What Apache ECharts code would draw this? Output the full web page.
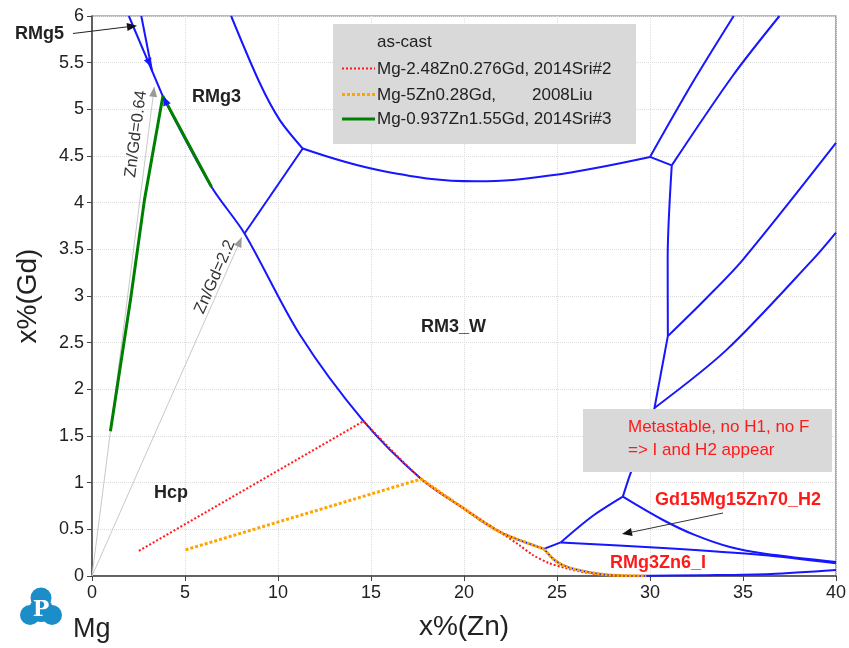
<!DOCTYPE html>
<html><head><meta charset="utf-8">
<script src="https://cdn.jsdelivr.net/npm/echarts@6/dist/echarts.min.js"></script>
<style>html,body{margin:0;padding:0;background:#fff}#c{width:849px;height:648px}</style>
</head><body><div id="c"></div>
<script>
// ---------- data (x%(Zn), x%(Gd)) ----------
const xTickValues = [0,5,10,15,20,25,30,35,40];
const yTickValues = [0,0.5,1,1.5,2,2.5,3,3.5,4,4.5,5,5.5,6];

// blue phase boundaries
const rmg5BoundaryA = [[1.98,6.0],[3.81,5.14]];
const rmg5BoundaryB = [[2.65,6.0],[3.23,5.41]];
const hcpBoundaryUpper = [[3.81,5.14],[6.42,4.17],[8.2,3.67],[11.16,2.59],[14.6,1.66],[17.7,1.04],[19.94,0.73],[21.9,0.475],[24.3,0.29]];
const hcpBoundaryLower = [[24.3,0.29],[24.87,0.17],[25.5,0.10],[26.57,0.046],[27.8,0.011],[29.8,0.0]];
const rmg3wEdge = [[8.2,3.67],[11.33,4.58]];
const rmg3TopEdge = [[11.33,4.58],[10.08,4.89],[9.0,5.29],[7.48,6.0]];
const rm3wTopEdge = [[11.33,4.58],[15.63,4.34],[20.65,4.23],[24.6,4.29],[30.0,4.49]];
const upperRight1 = [[30.0,4.49],[32.3,5.29],[34.5,6.0]];
const junctionLink = [[30.0,4.49],[31.17,4.40]];
const upperRight2 = [[31.17,4.40],[34.45,5.36],[36.96,6.0]];
const verticalEdge = [[31.17,4.40],[30.95,3.4],[30.96,2.57]];
const rightCurve1 = [[30.96,2.57],[33.0,2.97],[35.0,3.39],[40.0,4.64]];
const verticalEdge2 = [[30.96,2.57],[30.24,1.80]];
const rightCurve2 = [[30.24,1.80],[34.1,2.42],[38.75,3.39],[40.0,3.68]];
const h2UpperEdge = [[30.24,1.80],[28.9,1.07],[28.54,0.85]];
const h2LeftEdge = [[28.54,0.85],[26.9,0.64],[25.2,0.36]];
const h2Foot = [[25.2,0.36],[24.3,0.29]];
const iUpperEdge = [[25.2,0.36],[30.7,0.30],[36.05,0.225],[40.0,0.136]];
const h2RightEdge = [[28.54,0.85],[30.7,0.60],[32.4,0.44],[34.3,0.31],[36.1,0.24],[40.0,0.15]];
const iLowerEdge = [[28.9,0.0],[33.0,0.008],[36.5,0.022],[40.0,0.065]];
const rmg5Markers = [[3.23,5.41],[3.79,5.18]];

// composition ratio guides
const ratio064 = [[0,0],[3.35,5.24]];
const ratio22 = [[0,0],[8.05,3.63]];

// as-cast solidification paths
const redTie = [[2.52,0.27],[14.6,1.66]];
const redPath = [[14.6,1.66],[17.7,1.04],[19.94,0.73],[21.9,0.475],[22.98,0.33],[23.7,0.225],[24.6,0.136],[25.5,0.083],[26.57,0.035],[27.8,0.008],[29.4,0.0]];
const orangeTie = [[5.03,0.28],[17.7,1.04]];
const orangePath = [[17.7,1.04],[19.94,0.73],[21.9,0.475],[24.3,0.29]];
const orangePath2 = [[24.3,0.29],[24.87,0.17],[25.5,0.10],[26.57,0.046],[27.8,0.011],[29.8,0.0]];
const greenPath = [[0.99,1.55],[2.07,2.96],[2.82,4.03],[3.81,5.14],[6.42,4.17]];

const legendTitle = 'as-cast';
const legendNames = ['Mg-2.48Zn0.276Gd, 2014Sri#2','Mg-5Zn0.28Gd,','Mg-0.937Zn1.55Gd, 2014Sri#3'];
const legendExtra = '2008Liu';

// ---------- chart ----------
const FONT = '"Liberation Sans", Arial, sans-serif';
const BLUE = '#1616ff';
const chart = echarts.init(document.getElementById('c'), null, {renderer:'canvas'});

function blue(data, smooth){
  return {type:'line', data, symbol:'none', smooth: smooth||false, silent:true, z:2,
    lineStyle:{color:BLUE, width:2}};
}
const series = [
  blue(rmg5BoundaryA), blue(rmg5BoundaryB),
  blue(hcpBoundaryUpper,0.3), blue(hcpBoundaryLower,0.3),
  blue(rmg3wEdge), blue(rmg3TopEdge,0.3), blue(rm3wTopEdge,0.4),
  blue(upperRight1,0.3), blue(junctionLink), blue(upperRight2,0.3),
  blue(verticalEdge,0.3), blue(rightCurve1,0.3), blue(verticalEdge2),
  blue(rightCurve2,0.3), blue(h2UpperEdge,0.2), blue(h2LeftEdge,0.3), blue(h2Foot),
  blue(iUpperEdge,0.3), blue(h2RightEdge,0.35), blue(iLowerEdge,0.3),
  {type:'line', id:'r064', data: ratio064, symbol:'none', silent:true, z:1,
    lineStyle:{color:'#c8c8c8', width:1}},
  {type:'line', id:'r22', data: ratio22, symbol:'none', silent:true, z:1,
    lineStyle:{color:'#c8c8c8', width:1}},
  {type:'line', data: redTie, symbol:'none', silent:true, z:4, lineStyle:{color:'#ff1a1a', width:2, type:[2,2]}},
  {type:'line', data: redPath, symbol:'none', smooth:0.3, silent:true, z:4, lineStyle:{color:'#ff1a1a', width:2, type:[2,2]}},
  {type:'line', data: orangeTie, symbol:'none', silent:true, z:5, lineStyle:{color:'#ffa500', width:3, type:[3,2]}},
  {type:'line', data: orangePath, symbol:'none', smooth:0.3, silent:true, z:5, lineStyle:{color:'#ffa500', width:3, type:[3,1]}},
  {type:'line', data: orangePath2, symbol:'none', smooth:0.3, silent:true, z:5, lineStyle:{color:'#ffa500', width:3, type:[3,1]}},
  {type:'line', data: greenPath, symbol:'none', silent:true, z:6, lineStyle:{color:'#008000', width:3}}
];

const axisLabel = {fontFamily:FONT, fontSize:18, color:'#222', margin:8};
const option = {
  animation:false,
  backgroundColor:'#fff',
  grid:{left:92, right:13, top:16, bottom:72, containLabel:false, outerBoundsMode:'none',
    show:true, borderColor:'#777', borderWidth:1.2, backgroundColor:'transparent'},
  xAxis:{type:'value', min:0, max:40, interval:5,
    name:'x%(Zn)', nameLocation:'middle', nameGap:37,
    nameTextStyle:{fontFamily:FONT, fontSize:28, color:'#222'},
    axisLine:{show:true, onZero:false, lineStyle:{color:'#444', width:1.5}},
    axisTick:{show:true, length:5, lineStyle:{color:'#444'}},
    axisLabel:Object.assign({formatter:v=>xTickValues.includes(v)?String(v):''}, axisLabel),
    splitLine:{show:true, lineStyle:{color:'#dcdcdc', type:'dotted', width:1}}},
  yAxis:{type:'value', min:0, max:6, interval:0.5,
    name:'x%(Gd)', nameLocation:'middle', nameGap:50,
    nameTextStyle:{fontFamily:FONT, fontSize:28, color:'#222'},
    axisLine:{show:true, onZero:false, lineStyle:{color:'#444', width:1.5}},
    axisTick:{show:true, length:5, lineStyle:{color:'#444'}},
    axisLabel:Object.assign({formatter:v=>yTickValues.includes(v)?String(v):''}, axisLabel),
    splitLine:{show:true, lineStyle:{color:'#dcdcdc', type:'dotted', width:1}}},
  series
};
chart.setOption(option);

// ---------- annotations (pixel geometry derived through the axes) ----------
const px = p => chart.convertToPixel({gridIndex:0}, p);
function angleOf(a,b){ const A=px(a), B=px(b); return Math.atan2(A[1]-B[1], B[0]-A[0]); }
const a064 = angleOf(ratio064[0], ratio064[1]);
const a22 = angleOf(ratio22[0], ratio22[1]);
const aRmg5 = angleOf(rmg5BoundaryA[0], rmg5BoundaryA[1]);

function arrowHead(tip, ang, color, len, half){
  const dx=Math.cos(ang), dy=-Math.sin(ang);
  const bx=tip[0]-dx*len, by=tip[1]-dy*len;
  const nx=-dy, ny=dx;
  return {type:'polygon', z:20, silent:true,
    shape:{points:[[tip[0],tip[1]],[bx+nx*half,by+ny*half],[bx-nx*half,by-ny*half]]},
    style:{fill:color}};
}
function text(t, x, y, opt){
  return {type:'text', z:30, silent:true, x, y,
    style:Object.assign({text:t, fontFamily:FONT, fontSize:17, fill:'#222',
      align:'left', verticalAlign:'middle'}, opt||{})};
}

const tip064 = px(ratio064[1]);
const tip22 = px(ratio22[1]);
const m1 = px(rmg5Markers[0]);
const m2 = px(rmg5Markers[1]);

chart.setOption({
  graphic:[
    arrowHead(tip064, a064, '#9a9a9a', 10, 4),
    arrowHead(tip22, a22, '#9a9a9a', 10, 4),
    arrowHead([m1[0]-1,m1[1]-4], aRmg5, BLUE, 9, 4),
    arrowHead([m2[0]+1,m2[1]+4], aRmg5+Math.PI, BLUE, 9, 4),
    {type:'text', z:30, silent:true, x:136, y:134, rotation:a064,
      style:{text:'Zn/Gd=0.64', fontFamily:FONT, fontSize:16.5, fill:'#333', align:'center', verticalAlign:'middle'}},
    {type:'text', z:30, silent:true, x:215, y:277, rotation:a22,
      style:{text:'Zn/Gd=2.2', fontFamily:FONT, fontSize:16.5, fill:'#333', align:'center', verticalAlign:'middle'}},
    text('RMg5', 15, 34, {fontWeight:'bold', fontSize:18}),
    {type:'line', z:30, silent:true, shape:{x1:73,y1:33.5,x2:130,y2:26.5}, style:{stroke:'#222', lineWidth:1}},
    arrowHead([137,25.8], Math.atan2(33.5-25.8, 137-73), '#111', 10, 4),
    text('RMg3', 192, 97, {fontWeight:'bold', fontSize:18}),
    text('RM3_W', 421, 327, {fontWeight:'bold', fontSize:18}),
    text('Hcp', 154, 493, {fontWeight:'bold', fontSize:18}),
    text('Gd15Mg15Zn70_H2', 655, 500, {fontWeight:'bold', fontSize:18, fill:'#ff1a1a'}),
    text('RMg3Zn6_I', 610, 563, {fontWeight:'bold', fontSize:18, fill:'#ff1a1a'}),
    {type:'line', z:30, silent:true, shape:{x1:723,y1:513,x2:630,y2:532.5}, style:{stroke:'#333', lineWidth:1}},
    arrowHead([622,534], Math.atan2(534-513, 723-622)+Math.PI, '#111', 10, 4),
    {type:'rect', z:25, silent:true, shape:{x:333,y:24,width:303,height:120}, style:{fill:'#d9d9d9'}},
    text(legendTitle, 377, 42),
    {type:'line', z:30, silent:true, shape:{x1:342,y1:68.5,x2:375,y2:68.5}, style:{stroke:'#ff1a1a', lineWidth:2, lineDash:[2,2]}},
    {type:'line', z:30, silent:true, shape:{x1:342,y1:94.5,x2:375,y2:94.5}, style:{stroke:'#ffa500', lineWidth:3, lineDash:[3,2]}},
    {type:'line', z:30, silent:true, shape:{x1:342,y1:119,x2:375,y2:119}, style:{stroke:'#008000', lineWidth:3}},
    text(legendNames[0], 377, 69),
    text(legendNames[1], 377, 95),
    text(legendExtra, 532, 95),
    text(legendNames[2], 377, 119),
    {type:'rect', z:25, silent:true, shape:{x:583,y:409,width:249,height:63}, style:{fill:'#d9d9d9'}},
    text('Metastable, no H1, no F', 628, 427, {fill:'#ff1a1a'}),
    text('=> I and H2 appear', 628, 450, {fill:'#ff1a1a'}),
    {type:'group', z:30, silent:true, children:[
      {type:'circle', shape:{cx:41,cy:598,r:10.5}, style:{fill:'#1b8dc8'}},
      {type:'circle', shape:{cx:30,cy:615,r:10}, style:{fill:'#1b8dc8'}},
      {type:'circle', shape:{cx:52,cy:615,r:10}, style:{fill:'#1b8dc8'}},
      {type:'circle', shape:{cx:41,cy:610,r:12}, style:{fill:'#1b8dc8'}},
      {type:'text', x:41, y:610, style:{text:'P', fontFamily:'"DejaVu Serif", "Liberation Serif", serif', fontWeight:'bold', fontSize:22, fill:'#fff', align:'center', verticalAlign:'middle'}}
    ]},
    text('Mg', 73, 630, {fontSize:27})
  ]
});
</script>
</body></html>
